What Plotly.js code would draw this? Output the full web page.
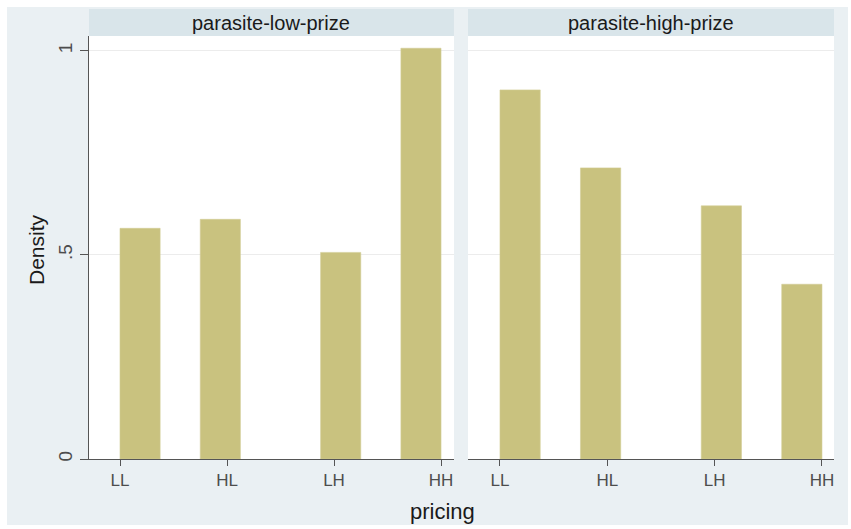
<!DOCTYPE html>
<html>
<head>
<meta charset="utf-8">
<script src="https://cdn.plot.ly/plotly-3.0.1.min.js"></script>
<style>
html,body{margin:0;padding:0;background:#ffffff;}
#chart{position:absolute;left:7px;top:7px;width:841px;height:518px;}
</style>
</head>
<body>
<div id="chart"></div>
<script>
// ---- data ----
const categories = ['LL', 'HL', 'LH', 'HH'];
const categoryCodes = [1, 2, 3, 4];
const binStart = [1, 1.75, 2.875, 3.625];
const binWidth = 0.375;
const panelNames = ['parasite-low-prize', 'parasite-high-prize'];
const densityLowPrize = [0.565, 0.587, 0.506, 1.006];
const densityHighPrize = [0.904, 0.713, 0.620, 0.428];
const yTickVals = [0, 0.5, 1];
const yTickText = ['0', '.5', '1'];

// ---- styles ----
const barColor = '#c9c27f';
const outerBg = '#eaf0f3';
const stripBg = '#d9e5ea';
const axisColor = '#555555';
const gridColor = '#ececec';
const font = 'Liberation Sans, Arial, sans-serif';

function barTrace(vals, xa, ya) {
  return {
    type: 'bar', x: binStart, y: vals, width: binStart.map(() => binWidth), offset: 0,
    xaxis: xa, yaxis: ya,
    marker: {color: barColor, line: {color: '#d2cc95', width: 0.6}},
    hoverinfo: 'skip', showlegend: false
  };
}

const data = [
  barTrace(densityLowPrize, 'x', 'y'),
  barTrace(densityHighPrize, 'x2', 'y2')
];

const plotH = 423;
const xCommon = {
  tickvals: categoryCodes, ticktext: categories, ticks: 'outside', ticklen: 6,
  tickcolor: axisColor, showline: true, linecolor: axisColor, linewidth: 1,
  showgrid: false, zeroline: false, fixedrange: true,
  tickfont: {family: font, size: 17, color: '#4d4d4d'}
};

const layout = {
  width: 841, height: 518,
  margin: {l: 82, r: 14, t: 29, b: 66, pad: 0},
  paper_bgcolor: outerBg, plot_bgcolor: '#ffffff',
  bargap: 0,
  xaxis: Object.assign({}, xCommon, {domain: [0, 0.4899], range: [0.7103, 4.121], anchor: 'y'}),
  xaxis2: Object.assign({}, xCommon, {domain: [0.5087, 1], range: [0.7018, 4.112], anchor: 'y2'}),
  yaxis: {
    domain: [0, 1], range: [0, 1.036], tickvals: yTickVals, ticktext: yTickText,
    ticks: 'outside', ticklen: 8, tickcolor: axisColor, tickangle: -90,
    showline: true, linecolor: axisColor, linewidth: 1,
    showgrid: true, gridcolor: gridColor, gridwidth: 1, zeroline: false, fixedrange: true,
    tickfont: {family: font, size: 19, color: '#4d4d4d'}, ticklabelstandoff: 0
  },
  yaxis2: {
    domain: [0, 1], range: [0, 1.036], tickvals: yTickVals, anchor: 'x2',
    showticklabels: false, ticks: '', showline: false,
    showgrid: true, gridcolor: gridColor, gridwidth: 1, zeroline: false, fixedrange: true
  },
  shapes: [
    {type: 'rect', xref: 'x domain', yref: 'paper', x0: 0, x1: 1, y0: 1, y1: 1 + 27 / plotH,
     fillcolor: stripBg, line: {width: 0}},
    {type: 'rect', xref: 'x2 domain', yref: 'paper', x0: 0, x1: 1, y0: 1, y1: 1 + 27 / plotH,
     fillcolor: stripBg, line: {width: 0}}
  ],
  annotations: [
    {text: panelNames[0], xref: 'paper', yref: 'paper', x: 0.4899 / 2, y: 1 + 13.5 / plotH,
     xanchor: 'center', yanchor: 'middle', showarrow: false,
     font: {family: font, size: 20, color: '#1a1a1a'}},
    {text: panelNames[1], xref: 'paper', yref: 'paper', x: (0.5087 + 1) / 2, y: 1 + 13.5 / plotH,
     xanchor: 'center', yanchor: 'middle', showarrow: false,
     font: {family: font, size: 20, color: '#1a1a1a'}},
    {text: 'pricing', xref: 'paper', yref: 'paper', x: 0.475, y: -0.123,
     xanchor: 'center', yanchor: 'middle', showarrow: false,
     font: {family: font, size: 22, color: '#1a1a1a'}},
    {text: 'Density', xref: 'paper', yref: 'paper', x: -0.0698, y: 0.4965, textangle: -90,
     xanchor: 'center', yanchor: 'middle', showarrow: false,
     font: {family: font, size: 21, color: '#1a1a1a'}}
  ]
};

Plotly.newPlot('chart', data, layout, {displayModeBar: false, staticPlot: true});
</script>
</body>
</html>
